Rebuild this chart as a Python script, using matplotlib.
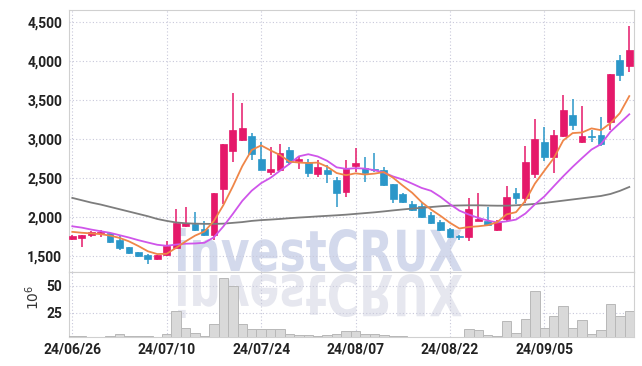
import matplotlib
matplotlib.use("Agg")
import matplotlib.pyplot as plt
import numpy as np
from matplotlib.textpath import TextPath
from matplotlib.patches import PathPatch
from matplotlib.font_manager import FontProperties
from matplotlib.transforms import Affine2D
from matplotlib.ticker import FuncFormatter

# ---------------- data ----------------
opens = [1715, 1725, 1770, 1795, 1790, 1705, 1610, 1548, 1510, 1465,
         1508, 1607, 1885, 1905, 1850, 1765, 2360, 2840, 2990, 3035,
         2740, 2583, 2605, 2860, 2722, 2710, 2553, 2605, 2475, 2325,
         2652, 2622, 2620, 2598, 2418, 2300, 2168, 2135, 2020, 1940,
         1847, 1760, 1740, 1955, 1945, 1835, 1975, 2304, 2240, 2552,
         2967, 2765, 3035, 3314, 2958, 3030, 3057, 3215, 4016, 3935]
highs = [1770, 1770, 1818, 1830, 1800, 1760, 1615, 1555, 1520, 1512,
         1695, 2099, 2125, 2060, 1945, 2310, 2940, 3595, 3465, 3080,
         2960, 2900, 2930, 2895, 2770, 2740, 2730, 2665, 2515, 2730,
         2890, 2775, 2825, 2635, 2420, 2305, 2200, 2175, 2065, 1962,
         1865, 1765, 2250, 2305, 2125, 1960, 2395, 2372, 2915, 3256,
         3150, 3117, 3566, 3515, 3421, 3117, 3288, 3830, 4072, 4444]
lows = [1700, 1610, 1740, 1750, 1670, 1580, 1525, 1490, 1392, 1445,
        1500, 1600, 1878, 1825, 1760, 1705, 2170, 2700, 2970, 2730,
        2600, 2540, 2600, 2665, 2610, 2510, 2517, 2430, 2130, 2260,
        2575, 2450, 2580, 2400, 2180, 2175, 2075, 1985, 1910, 1815,
        1730, 1705, 1698, 1945, 1890, 1825, 1935, 2167, 2176, 2496,
        2714, 2564, 3020, 3117, 2955, 2958, 2915, 3117, 3750, 3858]
closes = [1755, 1768, 1805, 1803, 1685, 1605, 1545, 1505, 1465, 1508,
          1622, 1925, 1918, 1835, 1770, 2305, 2935, 3110, 3135, 2805,
          2603, 2615, 2815, 2710, 2748, 2570, 2645, 2550, 2305, 2610,
          2688, 2565, 2603, 2405, 2225, 2192, 2092, 2000, 1922, 1828,
          1750, 1742, 2103, 1975, 1903, 1941, 2253, 2240, 2710, 3000,
          2765, 3057, 3378, 3185, 3040, 3022, 2937, 3828, 3823, 4136]
volumes = [3.0, 3.0, 2.0, 2.0, 3.0, 5.0, 3.4, 3.4, 3.0, 2.5,
           5.0, 26.5, 11.0, 6.0, 3.0, 15.0, 57.0, 50.0, 15.0, 9.5,
           9.5, 9.5, 9.5, 5.0, 4.0, 4.0, 3.5, 4.0, 5.0, 7.8,
           7.8, 5.0, 5.6, 4.0, 3.8, 3.0, 2.8, 2.8, 2.8, 2.8,
           2.8, 2.5, 10.3, 8.8, 4.0, 3.0, 17.2, 6.2, 19.7, 45.3,
           11.2, 21.9, 31.2, 11.2, 18.1, 5.6, 8.8, 32.8, 21.9, 26.6]
ma5 = [1810, 1798, 1790, 1780, 1762, 1732, 1688, 1628, 1561, 1525,
       1529, 1605, 1687, 1761, 1814, 1950, 2152, 2391, 2651, 2859,
       2918, 2854, 2795, 2710, 2698, 2692, 2698, 2645, 2564, 2536,
       2560, 2545, 2556, 2576, 2502, 2403, 2311, 2191, 2096, 2015,
       1926, 1853, 1872, 1881, 1895, 1933, 2034, 2062, 2209, 2428,
       2593, 2754, 2981, 3076, 3084, 3136, 3113, 3203, 3331, 3550]
ma10 = [1881, 1864, 1839, 1818, 1797, 1767, 1737, 1703, 1673, 1644,
        1631, 1647, 1658, 1661, 1670, 1740, 1879, 2039, 2206, 2337,
        2434, 2503, 2593, 2681, 2778, 2805, 2776, 2720, 2637, 2617,
        2626, 2621, 2600, 2570, 2519, 2481, 2428, 2373, 2336, 2258,
        2165, 2082, 2032, 1989, 1955, 1930, 1944, 1967, 2045, 2162,
        2263, 2394, 2522, 2643, 2756, 2865, 2934, 3092, 3204, 3317]
ma_long = [2245, 2215, 2185, 2160, 2130, 2100, 2070, 2040, 2010, 1975,
           1950, 1930, 1920, 1915, 1912, 1912, 1915, 1925, 1935, 1950,
           1960, 1967, 1975, 1985, 1993, 2000, 2008, 2015, 2022, 2030,
           2040, 2050, 2060, 2072, 2085, 2097, 2108, 2118, 2128, 2138,
           2145, 2148, 2150, 2150, 2147, 2145, 2145, 2150, 2158, 2168,
           2180, 2195, 2210, 2225, 2240, 2255, 2270, 2295, 2335, 2385]
tick_pos = [0, 10, 20, 30, 40, 50]
tick_labels = ['24/06/26', '24/07/10', '24/07/24', '24/08/07', '24/08/22', '24/09/05']
price_ticks = [1500, 2000, 2500, 3000, 3500, 4000, 4500]
vol_ticks = [25, 50]

# ---------------- style ----------------
UP = '#e5196a'
DOWN = '#2b97c9'
GRID = '#c8c8da'
SPINE = '#d0d0d0'
LABEL_FONT = ['Roboto', 'DejaVu Sans']
LABEL_SIZE = 10

W, H = 642, 366
fig = plt.figure(figsize=(W / 100, H / 100), dpi=100)


def rect(l, t, r, b):
    return [l / W, 1 - b / H, (r - l) / W, (b - t) / H]


ax = fig.add_axes(rect(69, 10, 634, 272))
axv = fig.add_axes(rect(69, 272, 634, 337), sharex=ax)

x = np.arange(len(closes))
o = np.array(opens, float)
c = np.array(closes, float)
hi = np.array(highs, float)
lo = np.array(lows, float)
cols = [UP if cc >= oo else DOWN for oo, cc in zip(o, c)]

# watermark (main + reflection)
fp = FontProperties(family='DejaVu Sans', weight='bold')
tp = TextPath((0, 0), 'investCRUX', size=100, prop=fp)
ext = tp.get_extents()
sx = 284 / ext.width
sy = 43 / ext.y1
x0 = 178 - ext.x0 * sx
tr_main = Affine2D().scale(sx, sy).translate(x0, H - 271)
wm = PathPatch(tp, transform=tr_main, fc='#d3d9ec', ec='none', zorder=1)
ax.add_patch(wm)
tr_ref = Affine2D().scale(sx, -sy).translate(x0, H - 275)
wm2 = PathPatch(tp, transform=tr_ref, fc='#e6e7ef', ec='none', zorder=1)
axv.add_patch(wm2)

# candles
ax.vlines(x, lo, hi, colors=cols, linewidth=1.1, zorder=3)
body_bottom = np.minimum(o, c)
body_h = np.maximum(np.abs(c - o), 12)
ax.bar(x, body_h, bottom=body_bottom, width=0.72, color=cols,
       edgecolor=cols, linewidth=0.5, zorder=4)

# moving averages
ax.plot(x, ma_long, color='#7d7d7d', linewidth=1.3, zorder=5)
ax.plot(x, ma10, color='#cf55ea', linewidth=1.3, zorder=5)
ax.plot(x, ma5, color='#ef8648', linewidth=1.3, zorder=6)

# volume
axv.bar(x, volumes, width=1.0, color='#d9d9d9', edgecolor='#b8b8b8',
        linewidth=0.7, zorder=3)

# axes formatting
ax.set_xlim(-0.35, 59.5)
ax.set_ylim(1295, 4654)
ax.set_yticks(price_ticks)
ax.yaxis.set_major_formatter(FuncFormatter(lambda v, p: f'{int(v):,}'))
axv.set_ylim(2.5, 63)
axv.set_yticks(vol_ticks)
axv.set_xticks(tick_pos)
axv.set_xticklabels(tick_labels)

for a in (ax, axv):
    a.grid(True, linestyle=(0, (1, 2)), color=GRID, linewidth=0.8)
    a.set_axisbelow(False)
    for s in a.spines.values():
        s.set_color(SPINE)
        s.set_linewidth(0.8)
    a.tick_params(length=0, colors='#222222')
    for lab in a.get_yticklabels():
        lab.set_fontfamily(LABEL_FONT)
        lab.set_fontweight('bold')
        lab.set_fontsize(LABEL_SIZE)
ax.tick_params(axis='x', labelbottom=False)
ax.tick_params(axis='y', pad=5)
axv.tick_params(axis='y', pad=5)
axv.tick_params(axis='x', pad=4)
for lab in axv.get_xticklabels():
    lab.set_fontfamily(LABEL_FONT)
    lab.set_fontweight('bold')
    lab.set_fontsize(LABEL_SIZE)

# keep grid lines above watermark but below candles
for a in (ax, axv):
    for gl in a.get_xgridlines() + a.get_ygridlines():
        gl.set_zorder(1.5)

fig.text(33 / W, 1 - 297 / H, r'$10^6$', rotation=90, ha='center',
         va='center', fontsize=10, color='#333333')

fig.savefig('out.png', dpi=100)
